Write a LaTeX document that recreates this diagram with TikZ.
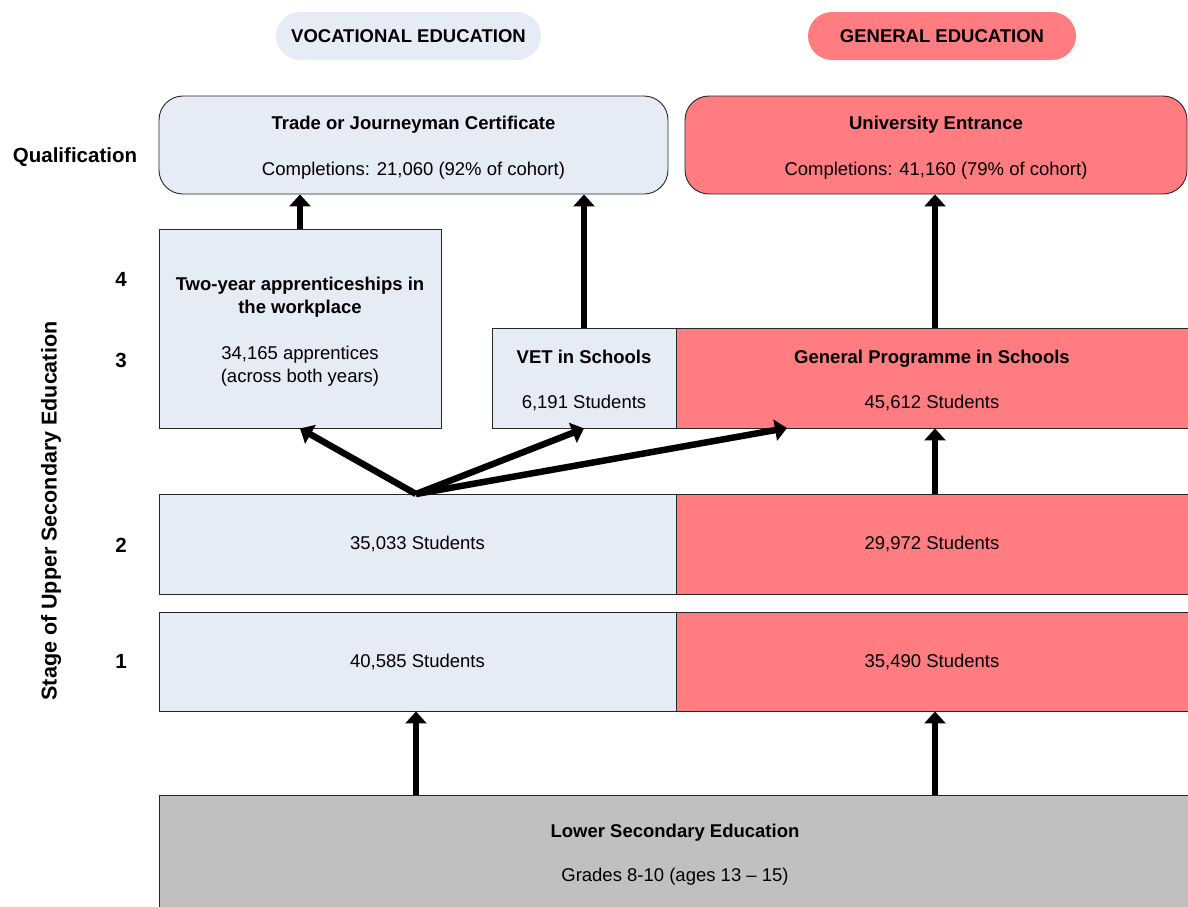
\documentclass[tikz,border=0pt]{standalone}
\usepackage{fontspec}
\setmainfont{Liberation Sans}
\usetikzlibrary{arrows.meta}
\definecolor{voc}{RGB}{230,236,246}
\definecolor{gen}{RGB}{255,124,128}
\definecolor{lowgray}{RGB}{192,192,192}
% taller first line, so two-line texts sit a little lower in their boxes
\newcommand{\firstline}{\rule{0pt}{19pt}}
\begin{document}
\begin{tikzpicture}[x=1pt,y=-1pt,
  txt/.style={font=\fontsize{18.5}{23}\selectfont, align=center},
  pill/.style={txt, font=\fontsize{18.5}{23}\selectfont\bfseries, rounded corners=24pt, minimum height=48pt, inner sep=0pt},
  stagebox/.style={txt, draw=black!85, line width=0.9pt, inner sep=0pt},
  qualbox/.style={stagebox, rounded corners=24pt, minimum height=98pt},
  sidelabel/.style={font=\fontsize{20.5}{24}\selectfont\bfseries},
  flow/.style={line width=6.5pt, -{Triangle[width=21pt,length=12pt]}}
]
\useasboundingbox (0,0) rectangle (1188,906);

% column headings
\node[pill, fill=voc, minimum width=265pt] (hvoc) at (408.5,36) {VOCATIONAL EDUCATION};
\node[pill, fill=gen, minimum width=268pt] (hgen) at (942,36) {GENERAL EDUCATION};

% qualifications
\node[qualbox, fill=voc, minimum width=509pt] (trade) at (413.5,145)
  {\firstline\textbf{Trade or Journeyman Certificate}\\[23pt]Completions: 21,060 (92\% of cohort)};
\node[qualbox, fill=gen, minimum width=502pt] (univ) at (936,145)
  {\firstline\textbf{University Entrance}\\[23pt]Completions: 41,160 (79\% of cohort)};

% stages 3 and 4
\node[stagebox, fill=voc, minimum width=282pt, minimum height=199pt] (appr) at (300,328.5)
  {\firstline\textbf{Two-year apprenticeships in}\\\textbf{the workplace}\\[23pt]34,165 apprentices\\(across both years)};
\node[stagebox, fill=voc, minimum width=184pt, minimum height=100pt] (vet) at (584,378)
  {\firstline\textbf{VET in Schools}\\[22pt]6,191 Students};
\node[stagebox, fill=gen, minimum width=512pt, minimum height=100pt] (gp) at (932,378)
  {\firstline\textbf{General Programme in Schools}\\[22pt]45,612 Students};

% stage 2
\node[stagebox, fill=voc, minimum width=517pt, minimum height=100pt] (s2v) at (417.5,544) {35,033 Students};
\node[stagebox, fill=gen, minimum width=512pt, minimum height=100pt] (s2g) at (932,544) {29,972 Students};

% stage 1
\node[stagebox, fill=voc, minimum width=517pt, minimum height=99pt] (s1v) at (417.5,661.5) {40,585 Students};
\node[stagebox, fill=gen, minimum width=512pt, minimum height=99pt] (s1g) at (932,661.5) {35,490 Students};

% lower secondary
\node[stagebox, fill=lowgray, minimum width=1032pt, minimum height=114pt] (lower) at (675,852)
  {\firstline\textbf{Lower Secondary Education}\\[21pt]Grades 8-10 (ages 13 -- 15)};

% row labels
\node[sidelabel] (lqual) at (75,157) {Qualification};
\node[sidelabel] (l4) at (121,279) {4};
\node[sidelabel] (l3) at (121,360) {3};
\node[sidelabel] (l2) at (121,545) {2};
\node[sidelabel] (l1) at (121,661) {1};
\node[sidelabel, font=\fontsize{21.5}{24}\selectfont\bfseries, rotate=90] (lstage) at (51,511) {Stage of Upper Secondary Education};

% progression arrows
\coordinate (fork) at (416,494);
\coordinate (gpin) at (787,428);
\draw[flow] (lower.north -| 416,0) -- (s1v.south -| 416,0);
\draw[flow] (lower.north -| 935,0) -- (s1g.south -| 935,0);
\draw[flow] (s2g.north -| 935,0) -- (gp.south -| 935,0);
\draw[flow] (fork) -- (appr.south);
\draw[flow] (fork) -- (vet.south);
\draw[flow] (fork) -- (gpin);
\draw[flow] (appr.north) -- (appr.north |- trade.south);
\draw[flow] (vet.north) -- (vet.north |- trade.south);
\draw[flow] (gp.north -| 935,0) -- (univ.south -| 935,0);
\end{tikzpicture}
\end{document}
